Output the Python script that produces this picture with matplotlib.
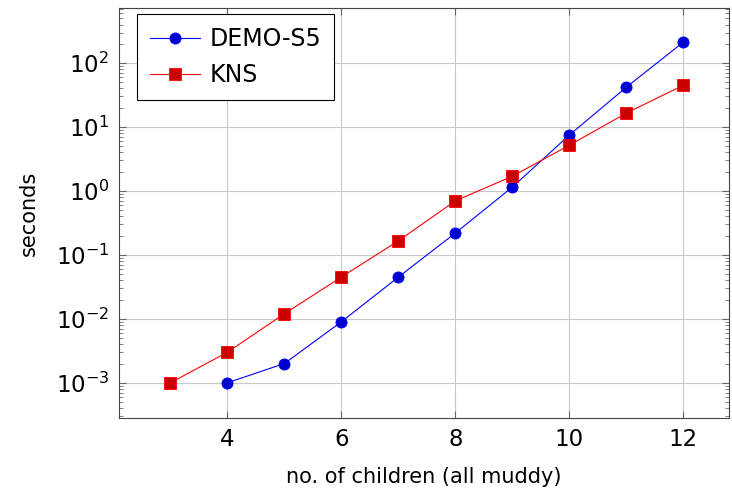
import numpy as np
import matplotlib
matplotlib.use('Agg')
import matplotlib.pyplot as plt
from matplotlib.ticker import LogLocator, NullFormatter

# children counts and timings (seconds)
demo_x = [4, 5, 6, 7, 8, 9, 10, 11, 12]
demo_y = [0.001, 0.002, 0.009, 0.045, 0.22, 1.15, 7.5, 42, 213]
kns_x = [3, 4, 5, 6, 7, 8, 9, 10, 11, 12]
kns_y = [0.001, 0.003, 0.012, 0.045, 0.166, 0.7, 1.7, 5.2, 16.5, 45]
xticks = [4, 6, 8, 10, 12]

plt.rcParams['font.family'] = 'DejaVu Sans'
plt.rcParams['mathtext.fontset'] = 'dejavusans'

fig = plt.figure(figsize=(7.32, 4.95), dpi=100)
ax = fig.add_axes([0.1626, 0.1556, 0.996 - 0.1626, 0.9838 - 0.1556])

ax.plot(demo_x, demo_y, color='blue', linewidth=0.8, marker='o', markersize=8,
        markerfacecolor=(0, 0, 0.8), markeredgecolor='blue', markeredgewidth=0.6,
        label='DEMO-S5', zorder=3)
ax.plot(kns_x, kns_y, color='red', linewidth=0.8, marker='s', markersize=8,
        markerfacecolor=(0.8, 0, 0), markeredgecolor='red', markeredgewidth=0.6,
        label='KNS', zorder=3)

ax.set_yscale('log')
ax.set_xlim(2.1, 12.8)
ax.set_ylim(10 ** -3.55, 10 ** 2.86)
ax.set_xticks(xticks)
ax.yaxis.set_major_locator(LogLocator(base=10, numticks=20))
ax.yaxis.set_minor_locator(LogLocator(base=10, subs=np.arange(2, 10), numticks=20))
ax.yaxis.set_minor_formatter(NullFormatter())

ax.grid(True, which='major', color='#c8c8c8', linewidth=0.8)
ax.set_axisbelow(True)
for s in ax.spines.values():
    s.set_color('#444444')
    s.set_linewidth(0.8)

ax.tick_params(which='both', direction='in', top=True, right=True, color='#666666')
ax.tick_params(which='major', length=5, labelsize=16.5, pad=7)
ax.tick_params(which='minor', length=3)

ax.set_xlabel('no. of children (all muddy)', fontsize=15, labelpad=12)
ax.set_ylabel('seconds', fontsize=15, labelpad=12)

leg = ax.legend(loc='upper left', fontsize=17, fancybox=False, framealpha=1,
                edgecolor='black', borderpad=0.55, handlelength=2.1,
                handletextpad=0.4, labelspacing=0.5, borderaxespad=0,
                bbox_to_anchor=(0.03, 0.985))
leg.get_frame().set_linewidth(0.8)

fig.savefig('out.png', dpi=100)
